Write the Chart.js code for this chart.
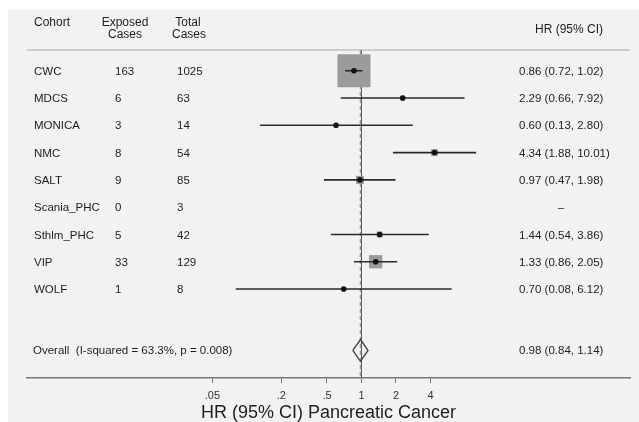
<!DOCTYPE html>
<html>
<head>
<meta charset="utf-8">
<script src="https://cdn.jsdelivr.net/npm/chart.js@4.4.1/dist/chart.umd.min.js"></script>
<style>
  html, body { margin: 0; padding: 0; background: #fff; overflow: hidden; }
</style>
</head>
<body>
<!-- a little taller than the window so the axis title is clipped like the original -->
<canvas id="forest" width="639" height="426"></canvas>
<script>
// study rows
const cohorts = ['CWC', 'MDCS', 'MONICA', 'NMC', 'SALT', 'Scania_PHC', 'Sthlm_PHC', 'VIP', 'WOLF'];
const exposedCases = [163, 6, 3, 8, 9, 0, 5, 33, 1];
const totalCases = [1025, 63, 14, 54, 85, 3, 42, 129, 8];
const hr = [0.86, 2.29, 0.60, 4.34, 0.97, null, 1.44, 1.33, 0.70];
const ciLow = [0.72, 0.66, 0.13, 1.88, 0.47, null, 0.54, 0.86, 0.08];
const ciHigh = [1.02, 7.92, 2.80, 10.01, 1.98, null, 3.86, 2.05, 6.12];
// study weights (%)
const weights = [74.8, 1.5, 1.0, 3.3, 4.4, 0, 2.4, 12.1, 0.5];

// pooled estimate
const overallLabel = 'Overall  (I-squared = 63.3%, p = 0.008)';
const overallHR = 0.98;
const overallLow = 0.84;
const overallHigh = 1.14;

// x axis
const tickValues = [0.05, 0.2, 0.5, 1, 2, 4];
const tickLabels = ['.05', '.2', '.5', '1', '2', '4'];
const xTitle = 'HR (95% CI) Pancreatic Cancer';

const FONT = "'Liberation Sans', Arial, sans-serif";
const overallRow = cohorts.length + 1.25;
const fmt = (v) => v.toFixed(2);

const datasets = [];

// null line at HR = 1 and dashed line at the pooled estimate
datasets.push({
    type: 'line',
    data: [{ x: 1, y: -0.76 }, { x: 1, y: 11.26 }],
    borderColor: '#555',
    borderWidth: 1,
    pointRadius: 0,
    order: 10,
});
datasets.push({
    type: 'line',
    data: [{ x: overallHR, y: -0.76 }, { x: overallHR, y: 11.26 }],
    borderColor: '#999',
    borderWidth: 1.5,
    borderDash: [4, 3],
    pointRadius: 0,
    order: 9,
});

// weight boxes
const boxData = [];
const boxRadius = [];
hr.forEach((v, i) => {
    if (v === null) return;
    boxData.push({ x: v, y: i });
    const side = 33 * Math.sqrt(weights[i] / 74.8);
    boxRadius.push(side / (2 * Math.SQRT1_2));
});
datasets.push({
    type: 'scatter',
    data: boxData,
    pointStyle: 'rect',
    pointRadius: boxRadius,
    backgroundColor: '#9b9b9b',
    borderWidth: 0,
    order: 8,
});

// confidence intervals
hr.forEach((v, i) => {
    if (v === null) return;
    datasets.push({
        type: 'line',
        data: [{ x: ciLow[i], y: i }, { x: ciHigh[i], y: i }],
        borderColor: '#2a2a2a',
        borderWidth: 1.6,
        pointRadius: 0,
        order: 5,
    });
});

// point estimates
datasets.push({
    type: 'scatter',
    data: hr.map((v, i) => (v === null ? null : { x: v, y: i })).filter(Boolean),
    pointRadius: 2.8,
    backgroundColor: '#111',
    borderWidth: 0,
    order: 2,
});

// pooled diamond
datasets.push({
    type: 'line',
    data: [
        { x: overallLow, y: overallRow },
        { x: overallHR, y: overallRow - 0.4 },
        { x: overallHigh, y: overallRow },
        { x: overallHR, y: overallRow + 0.4 },
        { x: overallLow, y: overallRow },
    ],
    borderColor: '#444',
    borderWidth: 1.4,
    pointRadius: 0,
    tension: 0,
    order: 1,
});

const tablePlugin = {
    id: 'table',
    beforeDraw(chart) {
        const ctx = chart.ctx;
        ctx.save();
        ctx.fillStyle = '#f2f2f2';
        ctx.fillRect(8, 10, chart.width - 8, chart.height - 10);
        ctx.restore();
    },
    afterDraw(chart) {
        const { ctx, chartArea } = chart;
        const y = chart.scales.y;
        ctx.save();

        // header rule
        ctx.strokeStyle = '#a8a8a8';
        ctx.lineWidth = 1.2;
        ctx.beginPath();
        ctx.moveTo(chartArea.left, chartArea.top);
        ctx.lineTo(chartArea.right, chartArea.top);
        ctx.stroke();

        ctx.fillStyle = '#1e1e1e';
        ctx.textBaseline = 'middle';

        // headers
        ctx.font = '12px ' + FONT;
        ctx.textAlign = 'left';
        ctx.fillText('Cohort', 34, 23);
        ctx.textAlign = 'center';
        ctx.fillText('Exposed', 125, 23);
        ctx.fillText('Cases', 125, 35);
        ctx.fillText('Total', 188, 23);
        ctx.fillText('Cases', 189, 35);
        ctx.fillText('HR (95% CI)', 569, 30);

        // rows
        ctx.font = '11.5px ' + FONT;
        cohorts.forEach((name, i) => {
            const py = y.getPixelForValue(i) + 1;
            ctx.textAlign = 'left';
            ctx.fillText(name, 34, py);
            ctx.fillText(String(exposedCases[i]), 115, py);
            ctx.fillText(String(totalCases[i]), 177, py);
            if (hr[i] === null) {
                ctx.textAlign = 'center';
                ctx.fillText('\u2013', 561, py);
            } else {
                ctx.fillText(fmt(hr[i]) + ' (' + fmt(ciLow[i]) + ', ' + fmt(ciHigh[i]) + ')', 519, py);
            }
        });

        const oy = y.getPixelForValue(overallRow);
        ctx.textAlign = 'left';
        ctx.fillText(overallLabel, 33, oy);
        ctx.fillText(fmt(overallHR) + ' (' + fmt(overallLow) + ', ' + fmt(overallHigh) + ')', 519, oy);

        ctx.restore();
    },
};

new Chart(document.getElementById('forest'), {
    data: { datasets },
    options: {
        responsive: false,
        animation: false,
        layout: {
            autoPadding: false,
            padding: { top: 50, left: 27, right: 9, bottom: 2.2 },
        },
        plugins: {
            legend: { display: false },
            tooltip: { enabled: false },
        },
        scales: {
            x: {
                type: 'logarithmic',
                position: 'bottom',
                min: 0.001206,
                max: 220.3,
                bounds: 'data',
                afterBuildTicks: (scale) => {
                    scale.ticks = tickValues.map((v) => ({ value: v }));
                },
                afterFit: (scale) => {
                    scale.paddingLeft = 0;
                    scale.paddingRight = 0;
                },
                ticks: {
                    autoSkip: false,
                    maxRotation: 0,
                    padding: 6,
                    color: '#333',
                    font: { family: FONT, size: 11 },
                    callback: (value, index) => tickLabels[index],
                },
                grid: {
                    drawOnChartArea: false,
                    drawTicks: true,
                    tickLength: 5,
                    color: '#777',
                },
                border: { display: true, color: '#777', width: 1.5 },
                title: {
                    display: true,
                    text: xTitle,
                    color: '#1e1e1e',
                    font: { family: FONT, size: 18 },
                    padding: { top: -6, bottom: 0 },
                },
            },
            y: {
                type: 'linear',
                reverse: true,
                min: -0.76,
                max: 11.26,
                display: false,
            },
        },
    },
    plugins: [tablePlugin],
});
</script>
</body>
</html>
